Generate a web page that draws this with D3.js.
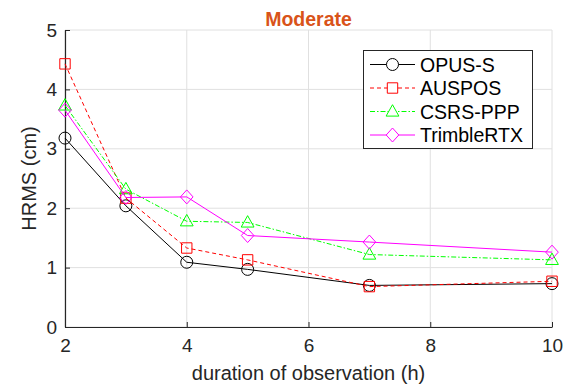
<!DOCTYPE html>
<html><head><meta charset="utf-8">
<script src="https://cdn.jsdelivr.net/npm/d3@7"></script>
<style>body{margin:0;background:#fff}svg{display:block}</style>
</head><body>
<svg id="c" width="565" height="387"></svg>
<script>
const durations = [2, 3, 4, 5, 7, 10];
const opusS = [3.18, 2.04, 1.09, 0.97, 0.70, 0.73];
const auspos = [4.43, 2.17, 1.33, 1.13, 0.68, 0.77];
const csrsPPP = [3.73, 2.32, 1.78, 1.76, 1.22, 1.13];
const trimbleRTX = [3.65, 2.18, 2.19, 1.54, 1.43, 1.26];
const xTicks = [2, 4, 6, 8, 10];
const yTicks = [0, 1, 2, 3, 4, 5];
const seriesNames = ["OPUS-S", "AUSPOS", "CSRS-PPP", "TrimbleRTX"];

const series = [
  {name: seriesNames[0], values: opusS, color: "#000000", dash: null, marker: "circle"},
  {name: seriesNames[1], values: auspos, color: "#ff0000", dash: "4,3", marker: "square"},
  {name: seriesNames[2], values: csrsPPP, color: "#00ff00", dash: "5,2,1.5,2", marker: "triangle"},
  {name: seriesNames[3], values: trimbleRTX, color: "#ff00ff", dash: null, marker: "diamond"}
];

const svg = d3.select("#c");
const L = 65, R = 552, T = 30, B = 327;
const x = d3.scaleLinear().domain([2, 10]).range([L, R]);
const y = d3.scaleLinear().domain([0, 5]).range([B, T]);
const axisColor = "#262626";
const font = "'Liberation Sans', Arial, Helvetica, sans-serif";

// grid
const g = svg.append("g");
g.selectAll(".gx").data(xTicks).enter().append("line")
  .attr("x1", d => x(d)).attr("x2", d => x(d)).attr("y1", T).attr("y2", B)
  .attr("stroke", "#e0e0e0").attr("stroke-width", 1);
g.selectAll(".gy").data(yTicks).enter().append("line")
  .attr("x1", L).attr("x2", R).attr("y1", d => y(d)).attr("y2", d => y(d))
  .attr("stroke", "#e0e0e0").attr("stroke-width", 1);

// axes
const xAxis = svg.append("g").attr("transform", `translate(0,${B})`)
  .call(d3.axisBottom(x).tickValues(xTicks).tickFormat(d3.format("d")).tickSizeInner(-5).tickSizeOuter(0).tickPadding(12));
const yAxis = svg.append("g").attr("transform", `translate(${L},0)`)
  .call(d3.axisLeft(y).tickValues(yTicks).tickFormat(d3.format("d")).tickSizeInner(-5).tickSizeOuter(0).tickPadding(8));
[xAxis, yAxis].forEach(a => {
  a.attr("font-size", null).attr("font-family", null);
  a.select(".domain").attr("stroke", axisColor).attr("stroke-width", 1.2);
  a.selectAll(".tick line").attr("stroke", axisColor);
  a.selectAll(".tick text").attr("fill", axisColor).style("font-family", font).style("font-size", "19px");
});

// markers
function markerD(type) {
  const p = d3.path();
  if (type === "circle") { p.arc(0, 0, 6, 0, 2 * Math.PI); }
  else if (type === "square") { p.rect(-5.2, -5.2, 10.4, 10.4); }
  else if (type === "triangle") { p.moveTo(0, -6.8); p.lineTo(6.4, 4.6); p.lineTo(-6.4, 4.6); p.closePath(); }
  else { p.moveTo(0, -7); p.lineTo(6.3, 0); p.lineTo(0, 7); p.lineTo(-6.3, 0); p.closePath(); }
  return p.toString();
}

// lines
const line = d3.line().x((d, i) => x(durations[i])).y(d => y(d));
series.forEach(s => {
  svg.append("path").datum(s.values).attr("d", line)
    .attr("fill", "none").attr("stroke", s.color).attr("stroke-width", 1)
    .attr("stroke-dasharray", s.dash);
  svg.selectAll(null).data(s.values).enter().append("path")
    .attr("d", markerD(s.marker))
    .attr("transform", (d, i) => `translate(${x(durations[i])},${y(d)})`)
    .attr("fill", "none").attr("stroke", s.color).attr("stroke-width", 1);
});

// title
svg.append("text").attr("x", (L + R) / 2).attr("y", 26).attr("text-anchor", "middle")
  .style("font-family", font).style("font-size", "19.5px").style("font-weight", "bold")
  .attr("fill", "#d95319").text("Moderate");

// axis labels
svg.append("text").attr("x", (L + R) / 2).attr("y", 380).attr("text-anchor", "middle")
  .style("font-family", font).style("font-size", "20px").attr("fill", axisColor)
  .text("duration of observation (h)");
svg.append("text").attr("transform", `translate(36,${(T + B) / 2}) rotate(-90)`).attr("text-anchor", "middle")
  .style("font-family", font).style("font-size", "20px").attr("fill", axisColor)
  .text("HRMS (cm)");

// legend
const lg = svg.append("g");
lg.append("rect").attr("x", 363.5).attr("y", 50.5).attr("width", 169).attr("height", 98)
  .attr("fill", "#fff").attr("stroke", axisColor).attr("stroke-width", 1);
series.forEach((s, i) => {
  const base = 71.5 + i * 23.5;
  const yy = base - 7;
  lg.append("line").attr("x1", 370).attr("x2", 415).attr("y1", yy).attr("y2", yy)
    .attr("stroke", s.color).attr("stroke-width", 1).attr("stroke-dasharray", s.dash);
  lg.append("path").attr("d", markerD(s.marker)).attr("transform", `translate(392.5,${yy})`)
    .attr("fill", "#fff").attr("stroke", s.color);
  lg.append("text").attr("x", 420).attr("y", base).style("font-family", font)
    .style("font-size", "19.5px").attr("fill", "#000").text(s.name);
});
</script>
</body></html>
